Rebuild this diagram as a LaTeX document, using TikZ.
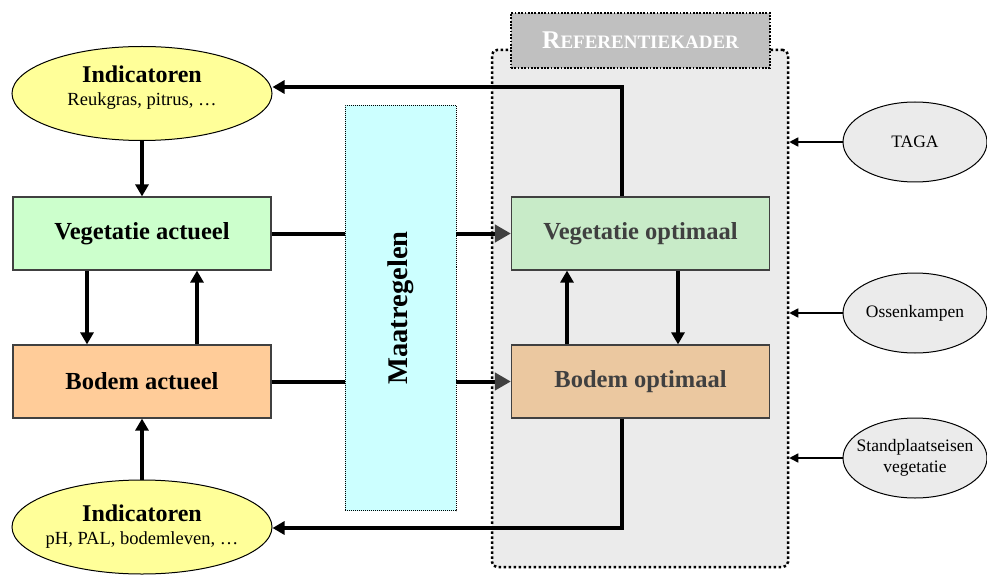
\documentclass[tikz,border=0pt]{standalone}
\usepackage{fontspec}
\setmainfont{Liberation Serif}
\usepackage{tikz}
\usetikzlibrary{positioning, arrows.meta, calc, shapes.geometric}
\definecolor{vegfill}{HTML}{CCFFCC}
\definecolor{bodfill}{HTML}{FFCC99}
\definecolor{indfill}{HTML}{FFFF99}
\definecolor{maatfill}{HTML}{CCFFFF}
\definecolor{reffill}{HTML}{EBEBEB}
\definecolor{labfill}{HTML}{C0C0C0}
\definecolor{vegopt}{HTML}{C8EBC8}
\definecolor{bodopt}{HTML}{EBC8A0}
\definecolor{optgray}{HTML}{404040}

\begin{document}
\begin{tikzpicture}[x=1pt, y=-1pt,
    ind/.style={ellipse, draw, line width=1pt, fill=indfill, minimum width=260pt,
        minimum height=94pt, inner xsep=-40pt, inner ysep=0pt, align=center,
        font=\fontsize{24}{26}\selectfont\bfseries},
    src/.style={ellipse, draw, line width=1pt, fill=reffill, minimum width=144pt,
        minimum height=80pt, inner xsep=-25pt, inner ysep=0pt, align=center,
        font=\fontsize{17.5}{21}\selectfont},
    box/.style={draw=optgray, line width=1.2pt, minimum width=258pt, minimum height=73pt,
        inner sep=0pt, font=\fontsize{24.5}{28}\selectfont\bfseries},
    optbox/.style={box, text=optgray},
    heavy/.style={line width=4pt},
    arrw/.style={heavy, -{Triangle[length=12pt, width=13pt]}},
    garrw/.style={heavy, -{Triangle[length=16pt, width=17pt, color=optgray]}},
    thin arrw/.style={line width=1.5pt, -{Triangle[length=9pt, width=9pt]}}
]
\useasboundingbox (0,0) rectangle (987,580);

% referentiekader in the background
\node[draw, fill=reffill, rounded corners=5pt, line width=2.5pt, dash pattern=on 2.5pt off 2.5pt,
    minimum width=296pt, minimum height=517pt, inner sep=0pt] (ref) at (640,308.5) {};
\node[draw, fill=labfill, line width=1.8pt, dash pattern=on 1.8pt off 1.5pt,
    minimum width=259pt, minimum height=55pt, inner sep=0pt, text=white,
    font=\bfseries] (reflab) at (640.5,40.5)
    {{\fontsize{25.5}{28}\selectfont R}{\fontsize{19}{28}\selectfont EFERENTIEKADER}};

% left column
\node[ind] (indtop) at (142,93.5) {Indicatoren\\[-3pt]{\fontsize{18.5}{21}\selectfont\mdseries Reukgras, pitrus, \dots}\\[-10pt]~};
\node[box, fill=vegfill] (vact) at (142,233.5) {Vegetatie actueel};
\node[box, fill=bodfill] (bact) at (142,381.5) {Bodem actueel};
\node[ind] (indbot) at (142,527) {Indicatoren\\[-3pt]{\fontsize{18.5}{21}\selectfont\mdseries pH, PAL, bodemleven, \dots}};

% maatregelen
\node[draw, fill=maatfill, line width=0.8pt, dash pattern=on 1pt off 1pt,
    minimum width=111pt, minimum height=405pt, inner sep=0pt] (maat) at (400.5,308) {};
\node[rotate=90, font=\fontsize{28.5}{30}\selectfont\bfseries] (maatlab) at (maat.center) {Maatregelen};

% optimal boxes
\node[optbox, fill=vegopt] (vopt) at (640.5,233.5) {Vegetatie optimaal};
\node[optbox, fill=bodopt] (bopt) at (640.5,381.5) {Bodem optimaal};

% sources on the right
\node[src] (taga) at (915,142) {TAGA};
\node[src] (ossen) at (915,313) {Ossenkampen};
\node[src] (stand) at (915,458) {Standplaatseisen\\vegetatie};

% links within the left column
\draw[arrw] (indtop.south) -- (vact.north);
\draw[arrw] ([xshift=-55pt]vact.south) -- ([xshift=-55pt]bact.north);
\draw[arrw] ([xshift=55pt]bact.north) -- ([xshift=55pt]vact.south);
\draw[arrw] (indbot.north) -- (bact.south);

% through the maatregelen
\draw[heavy] (vact.east) -- (vact -| maat.west);
\draw[heavy] (bact.east) -- (bact -| maat.west);
\draw[garrw] (vact -| maat.east) -- (vopt.west);
\draw[garrw] (bact -| maat.east) -- (bopt.west);

% links within the referentiekader
\draw[arrw] ([xshift=-73.5pt]bopt.north) -- ([xshift=-73.5pt]vopt.south);
\draw[arrw] ([xshift=37.5pt]vopt.south) -- ([xshift=37.5pt]bopt.north);

% feedback to the indicators
\coordinate (fbtop) at (622,87);
\coordinate (fbbot) at (622,528);
\draw[arrw] (vopt.north -| fbtop) -- (fbtop) -- (indtop.east |- fbtop);
\draw[arrw] (bopt.south -| fbbot) -- (fbbot) -- (indbot.east |- fbbot);

% sources into the referentiekader
\draw[thin arrw] (taga.west) -- (taga -| ref.east);
\draw[thin arrw] (ossen.west) -- (ossen -| ref.east);
\draw[thin arrw] (stand.west) -- (stand -| ref.east);

\end{tikzpicture}
\end{document}
